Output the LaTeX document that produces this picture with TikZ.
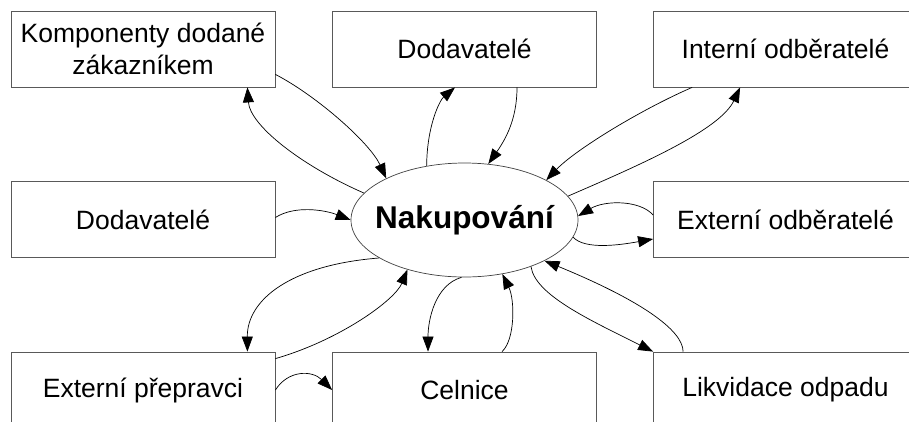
\documentclass[tikz,border=0pt]{standalone}
\usepackage{fontspec}
\setmainfont{Liberation Sans}
\usetikzlibrary{arrows.meta,shapes.geometric,calc}
\begin{document}
\begin{tikzpicture}[x=1pt,y=-1pt,
  box/.style={draw=black!65,line width=0.8pt,minimum width=264pt,minimum height=76pt,inner sep=0pt,align=center,font=\fontsize{26.5}{32}\selectfont},
  flow/.style={line width=0.7pt,-{Triangle[length=15pt,width=11pt]}}]
\useasboundingbox (0,0) rectangle (909,421);
\clip (0,0) rectangle (909,421);
\node[box] (k) at (143,49) {Komponenty dodané\\zákazníkem};
\node[box] (d) at (464.5,49) {Dodavatelé};
\node[box] (i) at (785.5,49) {Interní odběratelé};
\node[box] (m) at (143,219.5) {Dodavatelé};
\node[box] (e) at (785.5,219.5) {Externí odběratelé};
\node[box] (p) at (143,390) {Externí přepravci};
\node[box] (c) at (464.5,390) {Celnice};
\node[box] (l) at (785.5,390) {Likvidace odpadu};
\node[ellipse,draw=black!75,line width=0.7pt,minimum width=227pt,minimum height=114pt,inner sep=0pt] (n) at (464.5,220) {};
\node[font=\fontsize{31.5}{36}\selectfont\bfseries] (nt) at (n.center) {Nakupování};
% Komponenty
\draw[flow] ($(k.south east)+(0,-13)$) .. controls (317,96) and (370,143) .. (n.152);
\draw[flow] (n.165) .. controls (300,165) and (250,125) .. ($(k.south east)+(-28,0)$);
% Dodavatele (top)
\draw[flow] (n.125) .. controls (427,125) and (440,100) .. ($(d.south)+(-9.5,0)$);
\draw[flow] ($(d.south)+(52.5,0)$) .. controls (517,120) and (505,140) .. (n.67);
% Interni odberatele
\draw[flow] ($(i.south west)+(39,0)$) .. controls (640,110) and (575,150) .. (n.26);
\draw[flow] (n.13) .. controls (640,165) and (720,130) .. ($(i.south west)+(87,0)$);
% Dodavatele (left)
\draw[flow] ($(m.east)+(0,-2)$) .. controls (295,205) and (325,210) .. (n.180);
% Externi odberatele
\draw[flow] ($(e.west)+(0,-4.5)$) .. controls (640,200) and (605,200) .. (n.2);
\draw[flow] (n.-9) .. controls (585,250) and (620,245) .. ($(e.west)+(0,19.5)$);
% Likvidace odpadu
\draw[flow] (n.-35) .. controls (535,295) and (590,320) .. (l.north west);
\draw[flow] ($(l.north west)+(30,0)$) .. controls (683,330) and (640,300) .. (n.-27);
% Celnice
\draw[flow] ($(c.north)+(37.5,0)$) .. controls (515,340) and (515,300) .. (n.-55);
\draw[flow] (n.-93) .. controls (435,285) and (428,320) .. ($(c.north)+(-36.5,0)$);
% Externi prepravci
\draw[flow] (n.-156) .. controls (290,265) and (247,300) .. ($(p.north east)+(-28,0)$);
\draw[flow] ($(p.north east)+(0,7)$) .. controls (340,340) and (395,300) .. (n.-139);
\draw[flow] (p.east) .. controls (288,370) and (312,370) .. (c.west);
\end{tikzpicture}
\end{document}
